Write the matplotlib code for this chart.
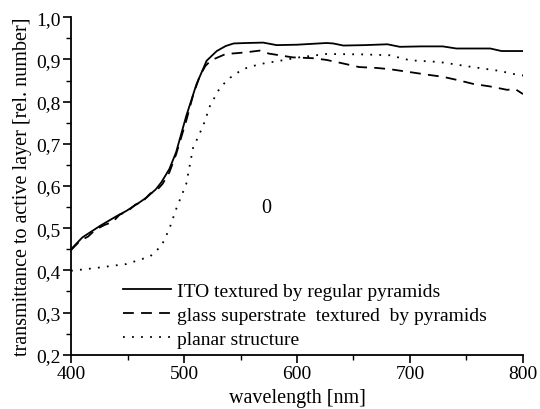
import numpy as np
import matplotlib.pyplot as plt
from matplotlib.ticker import MultipleLocator, FuncFormatter

plt.rcParams['font.family'] = ['Liberation Serif', 'DejaVu Serif']

# ITO textured by regular pyramids
wl_ito = [400, 410, 426, 440, 449, 460, 467, 475, 480, 487, 493, 502, 511, 520, 529,
          537, 544, 555, 570, 582, 600, 626, 632, 641, 660, 680, 691, 710, 729, 741,
          760, 771, 781, 790, 800]
t_ito = [0.450, 0.478, 0.506, 0.528, 0.541, 0.560, 0.573, 0.592, 0.609, 0.640, 0.680,
         0.766, 0.841, 0.897, 0.920, 0.932, 0.938, 0.939, 0.940, 0.934, 0.935, 0.939,
         0.938, 0.933, 0.934, 0.936, 0.930, 0.931, 0.931, 0.926, 0.926, 0.926, 0.920,
         0.920, 0.920]

# glass superstrate textured by pyramids
wl_glass = [400, 408, 415, 422, 430, 437, 443, 450, 457, 463, 470, 476, 481, 487, 493,
            502, 508, 514, 519, 524, 530, 537, 547, 555, 567, 575, 582, 596, 614, 626,
            640, 655, 670, 682, 700, 715, 729, 744, 756, 771, 786, 793, 800]
t_glass = [0.448, 0.470, 0.480, 0.497, 0.508, 0.515, 0.532, 0.540, 0.556, 0.562, 0.582,
           0.590, 0.605, 0.632, 0.675, 0.755, 0.815, 0.861, 0.885, 0.898, 0.905, 0.913,
           0.915, 0.917, 0.921, 0.914, 0.911, 0.905, 0.903, 0.899, 0.891, 0.882, 0.880,
           0.877, 0.870, 0.864, 0.859, 0.850, 0.842, 0.836, 0.828, 0.830, 0.818]

# planar structure
wl_planar = [400, 420, 449, 470, 480, 487, 493, 502, 508, 517, 523, 532, 541, 552, 567,
             585, 602, 626, 658, 682, 700, 726, 753, 779, 796, 800]
t_planar = [0.399, 0.405, 0.415, 0.433, 0.458, 0.498, 0.545, 0.605, 0.690, 0.743, 0.790,
            0.834, 0.857, 0.877, 0.889, 0.897, 0.905, 0.913, 0.912, 0.910, 0.898, 0.894,
            0.883, 0.873, 0.863, 0.862]

fig = plt.figure(figsize=(5.4, 4.1), dpi=100)
ax = fig.add_axes([0.1315, 0.1324, 0.837, 0.823])

ax.plot(wl_ito, t_ito, color='black', lw=1.3, ls='-',
        label='ITO textured by regular pyramids')
ax.plot(wl_glass, t_glass, color='black', lw=1.3, ls=(0, (6, 4)),
        label='glass superstrate  textured  by pyramids')
ax.plot(wl_planar, t_planar, color='black', lw=1.3, ls=(0, (1, 4)),
        label='planar structure')

ax.text(573, 0.55, '0', fontsize=14.5, ha='center', va='center')

ax.set_xlim(400, 800)
ax.set_ylim(0.2, 1.0)
ax.xaxis.set_major_locator(MultipleLocator(100))
ax.xaxis.set_minor_locator(MultipleLocator(50))
ax.yaxis.set_major_locator(MultipleLocator(0.1))
ax.yaxis.set_minor_locator(MultipleLocator(0.05))
ax.yaxis.set_major_formatter(FuncFormatter(lambda v, p: f'{v:.1f}'.replace('.', ',')))
ax.tick_params(which='major', direction='out', length=5.5, width=1.2, labelsize=14, pad=2)
ax.tick_params(which='minor', direction='out', length=3.5, width=1.0)

for s in ['top', 'right']:
    ax.spines[s].set_visible(False)
for s in ['left', 'bottom']:
    ax.spines[s].set_linewidth(1.3)

ax.set_xlabel('wavelength [nm]', fontsize=14.5, labelpad=4)
ax.set_ylabel('transmittance to active layer [rel. number]', fontsize=14.5, labelpad=3)

ax.legend(loc='lower left', bbox_to_anchor=(0.093, -0.008), frameon=False, fontsize=14,
          handlelength=2.5, handletextpad=0.3, labelspacing=0.32, borderaxespad=0.1)

fig.savefig('out.png', dpi=100)
